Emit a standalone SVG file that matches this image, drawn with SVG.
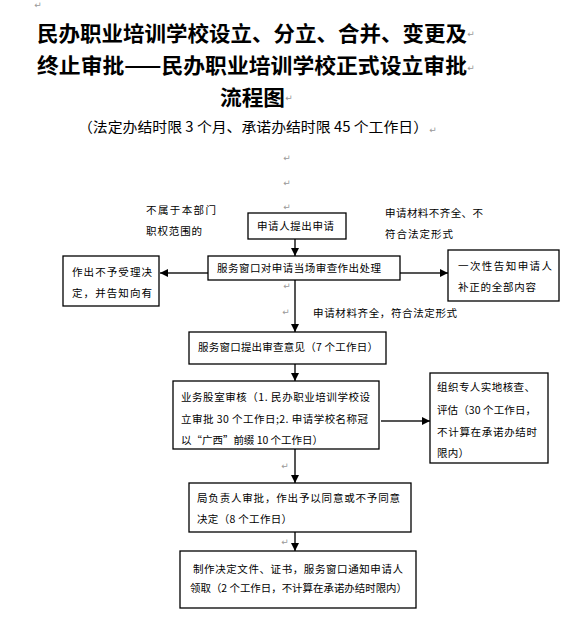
<svg xmlns="http://www.w3.org/2000/svg" width="583" height="622" viewBox="0 0 583 622">
<style>
.t{font-family:"Noto Sans CJK SC","Liberation Sans",sans-serif;font-size:21px;font-weight:700;fill:#000}
.s{font-family:"Noto Sans CJK SC","Liberation Sans",sans-serif;font-size:14px;fill:#000}
.n{font-family:"Noto Sans CJK SC","Liberation Sans",sans-serif;font-size:10.5px;fill:#000}
.pm{font-family:"DejaVu Sans",sans-serif;font-size:9px;fill:#999;text-anchor:middle}
.box{fill:#fff;stroke:#000;stroke-width:1.3}
.c{stroke:#555;stroke-width:2;fill:none}
</style>
<defs>
<marker id="ah" viewBox="0 0 8 8" refX="8" refY="4" markerWidth="8" markerHeight="8" markerUnits="userSpaceOnUse" orient="auto">
<path d="M0,0 L8,4 L0,8 Z" fill="#000"/>
</marker>
</defs>
<rect width="583" height="622" fill="#fff"/>

<g id="title">
<text class="t" x="37" y="41" textLength="430" lengthAdjust="spacingAndGlyphs">民办职业培训学校设立、分立、合并、变更及</text>
<text class="t" x="37" y="73" textLength="430" lengthAdjust="spacingAndGlyphs">终止审批——民办职业培训学校正式设立审批</text>
<text class="t" x="220" y="105" textLength="65" lengthAdjust="spacingAndGlyphs">流程图</text>
<text class="s" x="78" y="132" textLength="350" lengthAdjust="spacingAndGlyphs">（法定办结时限 3 个月、承诺办结时限 45 个工作日）</text>
</g>

<g id="marks">
<text class="pm" x="38" y="8">↵</text>
<text class="pm" x="471" y="37">↵</text>
<text class="pm" x="471" y="71">↵</text>
<text class="pm" x="289" y="101">↵</text>
<text class="pm" x="433" y="133">↵</text>
<text class="pm" x="287" y="161">↵</text>
<text class="pm" x="287" y="186">↵</text>
<text class="pm" x="287" y="210">↵</text>
<text class="pm" x="287" y="289">↵</text>
<text class="pm" x="286" y="315">↵</text>
<text class="pm" x="285" y="469">↵</text>
<text class="pm" x="285" y="545">↵</text>
</g>

<g id="connectors">
<line class="c" x1="295" y1="239" x2="295" y2="256" marker-end="url(#ah)"/>
<line class="c" x1="208" y1="273" x2="160" y2="273" marker-end="url(#ah)"/>
<line class="c" x1="400" y1="273" x2="448" y2="273" marker-end="url(#ah)"/>
<line class="c" x1="295" y1="280" x2="295" y2="332" marker-end="url(#ah)"/>
<line class="c" x1="295" y1="364" x2="295" y2="381" marker-end="url(#ah)"/>
<line class="c" x1="381" y1="421" x2="430" y2="421" marker-end="url(#ah)"/>
<line class="c" x1="295" y1="449" x2="295" y2="483" marker-end="url(#ah)"/>
<line class="c" x1="295" y1="532" x2="295" y2="551" marker-end="url(#ah)"/>
</g>

<g id="label-left">
<text class="n" x="146" y="214" textLength="70" lengthAdjust="spacing">不属于本部门</text>
<text class="n" x="146" y="235" textLength="56" lengthAdjust="spacing">职权范围的</text>
</g>
<g id="label-right">
<text class="n" x="385" y="217" textLength="98" lengthAdjust="spacing">申请材料不齐全、不</text>
<text class="n" x="385" y="238" textLength="68" lengthAdjust="spacing">符合法定形式</text>
</g>
<g id="label-mid">
<text class="n" x="313" y="317" textLength="144" lengthAdjust="spacing">申请材料齐全，符合法定形式</text>
</g>

<g id="n1">
<rect class="box" x="248" y="213" width="98" height="26"/>
<text class="n" x="257" y="230" textLength="77" lengthAdjust="spacing">申请人提出申请</text>
</g>
<g id="n2">
<rect class="box" x="208" y="256" width="192" height="24"/>
<text class="n" x="217" y="272" textLength="164" lengthAdjust="spacing">服务窗口对申请当场审查作出处理</text>
</g>
<g id="n3">
<rect class="box" x="63" y="256" width="96" height="50"/>
<text class="n" x="72" y="276" textLength="80" lengthAdjust="spacing">作出不予受理决</text>
<text class="n" x="72" y="297" textLength="80" lengthAdjust="spacing">定，并告知向有</text>
</g>
<g id="n4">
<rect class="box" x="448" y="250" width="111" height="51"/>
<text class="n" x="458" y="270" textLength="94" lengthAdjust="spacing">一次性告知申请人</text>
<text class="n" x="458" y="291" textLength="78" lengthAdjust="spacing">补正的全部内容</text>
</g>
<g id="n5">
<rect class="box" x="189" y="332" width="197" height="32"/>
<text class="n" x="198" y="351" textLength="180" lengthAdjust="spacing">服务窗口提出审查意见（7 个工作日）</text>
</g>
<g id="n6">
<rect class="box" x="173" y="381" width="206" height="68"/>
<text class="n" x="181" y="401" textLength="189" lengthAdjust="spacing">业务股室审核（1. 民办职业培训学校设</text>
<text class="n" x="181" y="423" textLength="187" lengthAdjust="spacing">立审批 30 个工作日;2. 申请学校名称冠</text>
<text class="n" x="181" y="444" textLength="142" lengthAdjust="spacing">以“广西”前缀 10 个工作日）</text>
</g>
<g id="n7">
<rect class="box" x="430" y="373" width="118" height="90"/>
<text class="n" x="437" y="391" textLength="98" lengthAdjust="spacing">组织专人实地核查、</text>
<text class="n" x="437" y="414" textLength="99" lengthAdjust="spacing">评估（30 个工作日，</text>
<text class="n" x="437" y="436" textLength="100" lengthAdjust="spacing">不计算在承诺办结时</text>
<text class="n" x="437" y="457" textLength="32" lengthAdjust="spacing">限内）</text>
</g>
<g id="n8">
<rect class="box" x="189" y="483" width="222" height="49"/>
<text class="n" x="197" y="502" textLength="203" lengthAdjust="spacing">局负责人审批，作出予以同意或不予同意</text>
<text class="n" x="197" y="523" textLength="95" lengthAdjust="spacing">决定（8 个工作日）</text>
</g>
<g id="n9">
<rect class="box" x="180" y="551" width="236" height="57"/>
<text class="n" x="193" y="573" textLength="210" lengthAdjust="spacing">制作决定文件、证书，服务窗口通知申请人</text>
<text class="n" x="190" y="592" textLength="217" lengthAdjust="spacingAndGlyphs">领取（2 个工作日，不计算在承诺办结时限内）</text>
</g>
</svg>
